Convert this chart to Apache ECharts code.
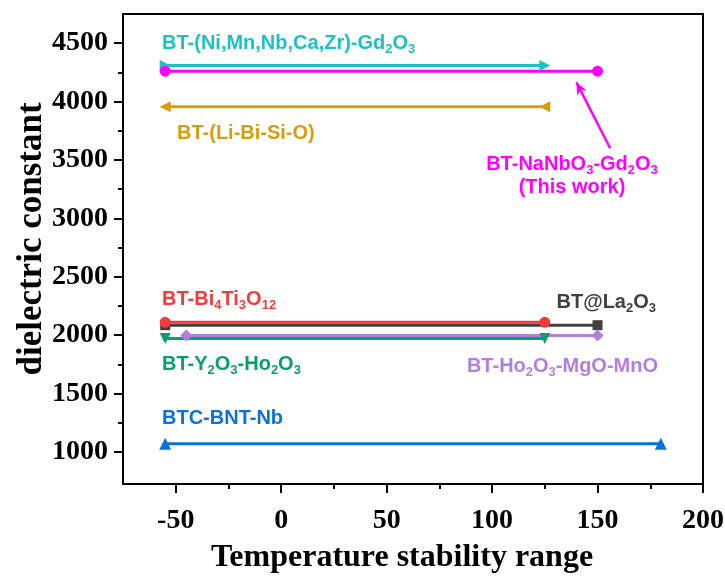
<!DOCTYPE html>
<html>
<head>
<meta charset="utf-8">
<script src="https://cdn.jsdelivr.net/npm/echarts@6/dist/echarts.min.js"></script>
<style>
  html, body { margin: 0; padding: 0; background: #fff; }
  #main { width: 725px; height: 576px; }
</style>
</head>
<body>
<div id="main"></div>
<script>
'use strict'
// data
const names = ['BT-(Ni,Mn,Nb,Ca,Zr)-Gd2O3', 'BT-NaNbO3-Gd2O3', 'BT-(Li-Bi-Si-O)', 'BT@La2O3',
  'BT-Bi4Ti3O12', 'BT-Y2O3-Ho2O3', 'BT-Ho2O3-MgO-MnO', 'BTC-BNT-Nb'];
const tempLow = [-55, -55, -55, -55, -55, -55, -45, -55];
const tempHigh = [125, 150, 125, 150, 125, 125, 150, 180];
const epsilon = [4310, 4260, 3955, 2085, 2110, 1972, 1997, 1070];
const xMajor = [-50, 0, 50, 100, 150, 200];
const xMinor = [-25, 25, 75, 125, 175];
const yMajor = [1000, 1500, 2000, 2500, 3000, 3500, 4000, 4500];
const yMinor = [1250, 1750, 2250, 2750, 3250, 3750, 4250];
const arrowTip = [140, 4165];
const arrowTail = [156, 3600];

const colors = ['#1cc0c6', '#ff00ff', '#d69e0e', '#404040', '#f23c3c', '#07a06a', '#b47ede', '#0a72d8'];
const symbols = ['triangle', 'circle', 'triangle', 'rect', 'circle', 'triangle', 'diamond', 'triangle'];
const rotates = [-90, 0, 90, 0, 0, 180, 0, 0];
const sizes = [11, 11, 11, 10, 11, 11, 12, 12];

const serif = '"Liberation Serif", "Times New Roman", serif';
const sans = '"Liberation Sans", Arial, sans-serif';

let series = names.map((n, i) => {
  let s = {
    name: n,
    type: 'line',
    data: [[tempLow[i], epsilon[i]], [tempHigh[i], epsilon[i]]],
    symbol: symbols[i],
    symbolSize: sizes[i],
    symbolRotate: rotates[i],
    showAllSymbol: true,
    lineStyle: { color: colors[i], width: 3 },
    itemStyle: { color: colors[i] },
    silent: true,
    animation: false
  };
  if (i === 1) {
    s.markLine = {
      silent: true,
      symbol: ['arrow', 'none'],
      symbolSize: [8, 12],
      label: { show: false },
      lineStyle: { color: colors[1], width: 2.5, type: 'solid' },
      data: [[{ coord: arrowTip }, { coord: arrowTail }]]
    };
  }
  return s;
});

// labels with subscripts
const rich = { s: { fontSize: 13, lineHeight: 14, verticalAlign: 'bottom', fontFamily: sans, fontWeight: 'bold' } };
function tag(text, color, x, y, align) {
  return {
    type: 'text',
    x: x, y: y,
    silent: true,
    style: {
      text: text,
      fill: color,
      font: 'bold 20px ' + sans,
      lineHeight: 25,
      align: align || 'left',
      verticalAlign: 'middle',
      rich: rich
    }
  };
}

let graphic = [
  tag('BT-(Ni,Mn,Nb,Ca,Zr)-Gd{s|2}O{s|3}', colors[0], 162, 43),
  tag('BT-(Li-Bi-Si-O)', colors[2], 177, 133),
  tag('BT-NaNbO{s|3}-Gd{s|2}O{s|3}', colors[1], 572, 164, 'center'),
  tag('(This work)', colors[1], 572, 187, 'center'),
  tag('BT-Bi{s|4}Ti{s|3}O{s|12}', colors[4], 162, 299),
  tag('BT@La{s|2}O{s|3}', colors[3], 656, 302, 'right'),
  tag('BT-Y{s|2}O{s|3}-Ho{s|2}O{s|3}', colors[5], 162, 364),
  tag('BT-Ho{s|2}O{s|3}-MgO-MnO', colors[6], 658, 366, 'right'),
  tag('BTC-BNT-Nb', colors[7], 162, 418)
];

let axisText = {
  color: '#000', fontFamily: serif, fontWeight: 'bold', fontSize: 28,
  formatter: (v) => String(v)
};
let option = {
  backgroundColor: '#fff',
  animation: false,
  grid: {
    left: 123, right: 22, top: 14, bottom: 92,
    show: true, borderColor: '#000', borderWidth: 2,
    outerBoundsMode: 'none'
  },
  xAxis: [{
    type: 'value', min: -75, max: 200,
    name: 'Temperature stability range',
    nameLocation: 'middle', nameGap: 58, nameMoveOverlap: false,
    nameTextStyle: { color: '#000', fontFamily: serif, fontWeight: 'bold', fontSize: 32, padding: [0, 22, 0, 0] },
    axisLine: { onZero: false, lineStyle: { color: '#000', width: 2 } },
    axisTick: { customValues: xMajor, length: 9, lineStyle: { color: '#000', width: 2 } },
    axisLabel: Object.assign({ customValues: xMajor, margin: 23 }, axisText),
    splitLine: { show: false }
  }, {
    type: 'value', min: -75, max: 200, position: 'bottom',
    axisLine: { show: false, onZero: false },
    axisTick: { customValues: xMinor, length: 5, lineStyle: { color: '#000', width: 2 } },
    axisLabel: { show: false },
    splitLine: { show: false }
  }],
  yAxis: [{
    type: 'value', min: 725, max: 4750,
    name: 'dielectric constant',
    nameLocation: 'middle', nameGap: 74, nameMoveOverlap: false,
    nameTextStyle: { color: '#000', fontFamily: serif, fontWeight: 'bold', fontSize: 35, padding: [0, 0, 0, 20] },
    axisLine: { show: true, onZero: false, lineStyle: { color: '#000', width: 2 } },
    axisTick: { show: true, customValues: yMajor, length: 9, lineStyle: { color: '#000', width: 2 } },
    axisLabel: Object.assign({ customValues: yMajor, margin: 15 }, axisText),
    splitLine: { show: false }
  }, {
    type: 'value', min: 725, max: 4750, position: 'left',
    axisLine: { show: false, onZero: false },
    axisTick: { show: true, customValues: yMinor, length: 5, lineStyle: { color: '#000', width: 2 } },
    axisLabel: { show: false },
    splitLine: { show: false }
  }],
  series: series,
  graphic: graphic
};

let myChart = echarts.init(document.getElementById('main'));
myChart.setOption(option);
</script>
</body>
</html>
